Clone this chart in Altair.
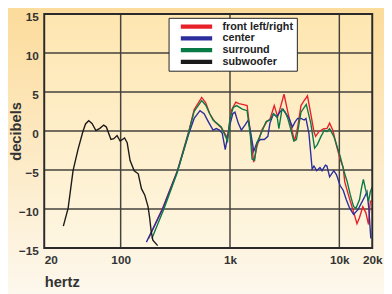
import altair as alt
import pandas as pd

# ---------------- data ----------------
front_f = [180, 242, 330, 419, 470, 551, 600, 653, 724, 832, 922, 945, 1026, 1130, 1208, 1296, 1434,
           1538, 1646, 1763, 1955, 2170, 2320, 2540, 2730, 2920, 3120, 3380, 3630, 3890, 4160,
           4460, 4770, 5110, 5480, 5860, 6070, 6500, 7200, 7700, 8150, 8720, 9470, 10160, 10850,
           11200, 12100, 12900, 13700, 14500, 15300, 16400, 17500, 18500, 19200, 19800]
front_db = [-13.8, -9.9, -5.1, -0.1, 2.7, 4.3, 3.6, 2.2, 1.2, 0.4, -0.6, -1.1, 2.6, 3.7, 3.5, 3.4, 3.25,
            -0.3, -4.0, -2.0, 0.1, 1.2, 1.5, 3.25, 1.8, 3.25, 4.7, 2.4, 0.5, -1.3, 0.5,
            3.25, 3.9, 4.5, 2.2, -0.1, -0.7, -0.1, 0.3, 0.3, 1.0, 0.1, -2.0, -3.6, -4.7,
            -6.5, -8.2, -9.5, -10.7, -11.9, -11.1, -9.7, -10.5, -12.0, -9.0, -9.0]

center_f = [172, 242, 330, 419, 470, 532, 580, 633, 700, 750, 800, 850, 905, 985, 1060, 1110, 1190,
            1270, 1370, 1470, 1540, 1650, 1763, 1900, 2060, 2220, 2320, 2500, 2680, 2850, 3050,
            3250, 3480, 3720, 3950, 4160, 4460, 4770, 4950, 5270, 5640, 5860, 6200, 6650, 6950,
            7460, 7700, 8150, 8900, 9400, 10160, 10850, 11560, 12430, 13500, 14800, 15900, 17100,
            17900, 18600, 19400]
center_db = [-14.25, -10.0, -5.2, -0.4, 1.6, 2.6, 2.2, 1.2, 0.1, 0.3, 0.1, -0.3, -2.4, 0.5, 2.2, 2.4, 1.0,
             0.1, 0.75, 1.4, -0.1, -2.6, -1.5, -1.1, -1.1, -0.7, 1.0, 2.2, 1.8, 2.4, 2.8,
             2.2, 1.6, 0.5, 1.2, 1.6, 1.6, 1.4, 1.6, -0.3, -4.9, -4.5, -5.1, -4.7, -5.1,
             -4.4, -4.5, -5.9, -5.1, -5.6, -7.0, -7.6, -8.8, -9.9, -10.7, -10.1, -9.25, -8.4,
             -7.8, -9.9, -13.8]

surround_f = [193, 250, 330, 419, 470, 551, 600, 653, 700, 832, 922, 950, 1000, 1070, 1150, 1296, 1434,
              1538, 1590, 1680, 1763, 1955, 2140, 2320, 2500, 2700, 2800, 2990, 3200, 3380, 3550,
              3830, 4050, 4460, 4980, 5480, 5940, 6290, 6800, 7300, 7700, 8150, 8900, 10160,
              11200, 11800, 12600, 13500, 14200, 15300, 16000, 16600, 17300, 18500, 19200, 20000]
surround_db = [-13.8, -9.9, -5.3, -0.2, 2.5, 3.9, 3.3, 2.2, 1.4, 0.5, -0.9, -1.3, 1.6, 3.0, 3.25, 2.8, 2.6,
               -0.7, -3.6, -3.75, -1.5, -0.1, 1.2, 1.4, 2.2, 1.8, 0.3, 2.8, 2.4, 1.6, 0.5,
               -1.3, -1.1, 2.4, 3.4, 1.0, -2.2, -1.75, -0.7, 0.1, -0.1, 0.3, -0.7, -3.2,
               -5.5, -6.5, -8.2, -9.7, -9.9, -8.8, -7.2, -6.2, -7.4, -9.0, -7.8, -7.2]

sub_f = [29.9, 33.1, 36.7, 40.7, 45.1, 47.7, 51.0, 54.7, 59.4, 64.5, 70, 74, 81.5, 86.6, 92.7, 99,
         108.6, 114.7, 122, 133, 144.8, 155, 166, 178, 184, 190, 197, 218]
sub_db = [-12.2, -9.9, -5.1, -2.4, -0.1, 0.9, 1.3, 0.96, 0.04, 0.33, 0.75, 0.5, -1.1, -1.0, -0.6, -1.3,
          -0.9, -1.5, -3.8, -5.1, -5.5, -7.4, -8.2, -9.7, -11.1, -12.8, -14.0, -14.7]

series_names = ["front left/right", "center", "surround", "subwoofer"]
series_colors = ["#e8202a", "#2b2e9c", "#087a46", "#1a1a1a"]

x_ticks = [20, 100, 1000, 10000, 20000]
y_ticks = [-15, -10, -5, 0, 5, 10, 15]
x_grid = [100, 1000, 10000]
y_grid = [-10, -5, 0, 5, 10]

# ---------------- build tables ----------------
rows = []
for name, fs, ds in zip(series_names, [front_f, center_f, surround_f, sub_f],
                        [front_db, center_db, surround_db, sub_db]):
    for i, (f, d) in enumerate(zip(fs, ds)):
        rows.append({"f": f, "db": d, "series": name, "i": i})
df = pd.DataFrame(rows)

W, H = 335, 239
xscale = alt.Scale(type="log", domain=[20, 20000], nice=False)
yscale = alt.Scale(domain=[-15, 15], nice=False)

xaxis = alt.Axis(values=x_ticks, ticks=False, domain=False, grid=False, zindex=2,
                 labelExpr="datum.value >= 1000 ? (datum.value/1000) + 'k' : datum.value",
                 labelAlign={"condition": {"test": "datum.value == 20", "value": "left"},
                             "value": "center"},
                 labelPadding=7, labelFontSize=12, labelFontWeight="bold",
                 labelColor="#333333", titleAnchor="start", titleAlign="left",
                 titleFontSize=15, titleFontWeight="bold", titleColor="#333333",
                 titlePadding=9)
yaxis = alt.Axis(values=y_ticks, ticks=False, domain=False, grid=False, zindex=2,
                 labelPadding=6, labelFontSize=12, labelFontWeight="bold",
                 labelColor="#333333", labelOffset=3,
                 titleFontSize=15, titleFontWeight="bold", titleColor="#333333",
                 titleX=-29, titleBaseline="middle")

one = pd.DataFrame({"k": [0]})

outer_grad = {"gradient": "linear", "x1": 0, "y1": 0, "x2": 0, "y2": 1,
              "stops": [{"offset": 0, "color": "#fcdb9a"}, {"offset": 1, "color": "#fdf8ee"}]}
inner_grad = {"gradient": "linear", "x1": 0, "y1": 0, "x2": 0, "y2": 1,
              "stops": [{"offset": 0, "color": "#fee6b0"}, {"offset": 1, "color": "#fef6e2"}]}

bg = alt.Chart(one).mark_rect(fill=outer_grad, clip=False).encode(
    x=alt.value(-40), x2=alt.value(W + 15), y=alt.value(-10), y2=alt.value(H + 50))
plot_bg = alt.Chart(one).mark_rect(fill=inner_grad).encode(
    x=alt.value(0), x2=alt.value(W), y=alt.value(0), y2=alt.value(H))

gx = alt.Chart(pd.DataFrame({"f": x_grid})).mark_rule(color="#45423c", strokeWidth=1.5).encode(
    x=alt.X("f:Q", scale=xscale, axis=xaxis, title="hertz"))
gy = alt.Chart(pd.DataFrame({"db": y_grid})).mark_rule(color="#45423c", strokeWidth=1.5).encode(
    y=alt.Y("db:Q", scale=yscale, axis=yaxis, title="decibels"))

lines = alt.Chart(df).mark_line(strokeWidth=1.4).encode(
    x=alt.X("f:Q", scale=xscale, title="hertz", axis=xaxis),
    y=alt.Y("db:Q", scale=yscale, title="decibels", axis=yaxis),
    color=alt.Color("series:N", scale=alt.Scale(domain=series_names, range=series_colors),
                    legend=alt.Legend(title=None, orient="none", legendX=127, legendY=4,
                                      symbolType="M-16,0H16", symbolSize=4, symbolStrokeWidth=4.5,
                                      symbolOffset=20, clipHeight=12,
                                      labelFontSize=11, labelFontWeight="bold", labelColor="#222",
                                      fillColor="white", strokeColor="#222", padding=3,
                                      rowPadding=0, labelOffset=21)),
    detail="series:N",
    order="i:Q",
)

frame = alt.Chart(one).mark_rect(fillOpacity=0, stroke="#2a2a2a", strokeWidth=2).encode(
    x=alt.value(0), x2=alt.value(W), y=alt.value(0), y2=alt.value(H))

chart = alt.layer(bg, plot_bg, gx, gy, lines, frame).properties(
    width=W, height=H,
    autosize=alt.AutoSizeParams(type="none"),
    padding={"left": 37, "top": 3, "right": 12, "bottom": 44},
).configure(
    font="Liberation Sans",
    background="#fdeccb",
).configure_view(stroke=None)

chart.save("out.html", embed_options={"renderer": "svg", "actions": False})
